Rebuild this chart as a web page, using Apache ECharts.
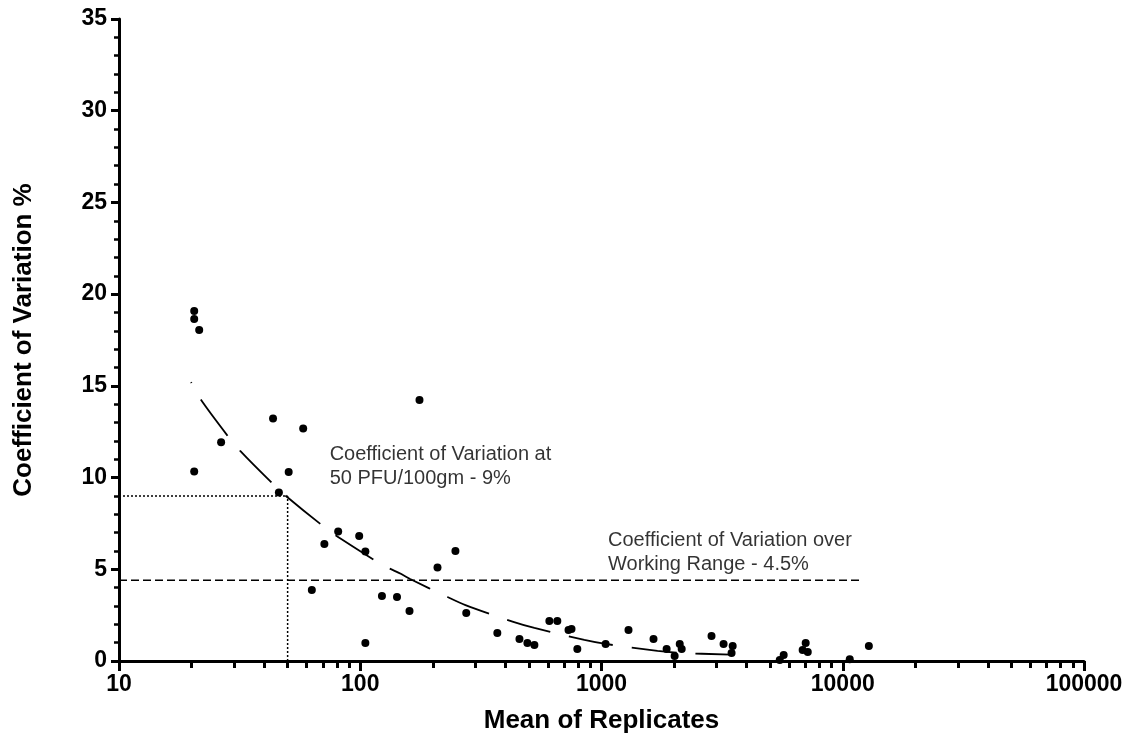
<!DOCTYPE html>
<html>
<head>
<meta charset="utf-8">
<script src="https://cdn.jsdelivr.net/npm/echarts@6/dist/echarts.min.js"></script>
<style>
html,body{margin:0;padding:0;background:#fff;}
#chart{width:1130px;height:738px;}
</style>
</head>
<body>
<div id="chart"></div>
<script>
// Scatter data: mean of replicates (x) and coefficient of variation % (y)
var meanReplicates = [20.5,20.5,21.5,20.5,26.5,43.5,46,50.5,58,63,71,81,99,105,105,123,142,160,176,209,248,275,370,457,493,527,608,656,730,751,794,1040,1294,1643,1862,2010,2110,2150,2858,3206,3497,3460,5480,5690,7020,6820,7160,10690,12830];
var cvPercent = [19.08,18.65,18.05,10.33,11.92,13.22,9.18,10.3,12.68,3.87,6.38,7.06,6.82,5.97,0.98,3.54,3.49,2.73,14.23,5.1,6.0,2.62,1.53,1.2,0.98,0.87,2.18,2.18,1.69,1.74,0.65,0.93,1.69,1.2,0.65,0.27,0.93,0.65,1.36,0.93,0.82,0.44,0.05,0.33,0.98,0.6,0.49,0.1,0.82];

// Fitted curve
var fitX = [19.9,21.7,28.1,31.8,43.1,50.2,71,83.4,124,148,161,230,273,431,527,849,1040,1706,2110,3430];
var fitY = [15.2,14.3,12.3,11.45,9.7,8.9,7.3,6.65,5.23,4.74,4.47,3.49,3.05,2.13,1.8,1.15,0.93,0.55,0.44,0.35];

// Reference values
var cvAt50 = 9;
var pfu50 = 50;
var cvWorkingRange = 4.4;
var workingRangeEnd = 12000;

// Axis ticks
var xMajorTicks = [10,100,1000,10000,100000];
var xMinorTicks = [20,30,40,50,60,70,80,90,200,300,400,500,600,700,800,900,2000,3000,4000,5000,6000,7000,8000,9000,20000,30000,40000,50000,60000,70000,80000,90000];
var yTicks = [0,5,10,15,20,25,30,35];

var scatterData = meanReplicates.map(function(x,i){return [x, cvPercent[i]];});
var fitData = fitX.map(function(x,i){return [x, fitY[i]];});

var FONT = '"Liberation Sans", Arial, Helvetica, sans-serif';
var chart = echarts.init(document.getElementById('chart'), null, {renderer:'canvas'});

var option = {
  animation: false,
  backgroundColor: '#fff',
  textStyle: {fontFamily: FONT},
  grid: {left:119, right:46, top:19, bottom:77, containLabel:false, outerBoundsMode:'none'},
  xAxis: [{
    type:'log', logBase:10, min:xMajorTicks[0], max:xMajorTicks[xMajorTicks.length-1], position:'bottom',
    axisLine:{show:true, onZero:false, lineStyle:{color:'#000', width:3}},
    axisTick:{show:true, length:10, lineStyle:{color:'#000', width:3}},
    axisLabel:{fontSize:23, fontWeight:'bold', color:'#000', fontFamily:FONT, margin:12,
      formatter:function(v){return String(Math.round(v));}},
    splitLine:{show:false},
    name:'Mean of Replicates', nameLocation:'middle', nameGap:47,
    nameTextStyle:{fontSize:26, fontWeight:'bold', color:'#000', fontFamily:FONT}
  },{
    type:'log', logBase:10, min:xMajorTicks[0], max:xMajorTicks[xMajorTicks.length-1], position:'bottom',
    axisLine:{show:false},
    axisTick:{show:true, length:7, customValues:xMinorTicks, lineStyle:{color:'#000', width:3}},
    axisLabel:{show:false},
    splitLine:{show:false}
  }],
  yAxis: {
    type:'value', min:yTicks[0], max:yTicks[yTicks.length-1], interval:5,
    axisLine:{show:true, onZero:false, lineStyle:{color:'#000', width:3}},
    axisTick:{show:true, length:8, lineStyle:{color:'#000', width:3}},
    minorTick:{show:true, splitNumber:5, length:5, lineStyle:{color:'#000', width:2.5}},
    axisLabel:{fontSize:23, fontWeight:'bold', color:'#000', fontFamily:FONT, margin:12},
    splitLine:{show:false},
    name:'Coefficient of Variation %', nameLocation:'middle', nameGap:82, nameRotate:90,
    nameTextStyle:{fontSize:26, fontWeight:'bold', color:'#000', fontFamily:FONT}
  },
  series: [
    {
      type:'line', xAxisIndex:0, data:fitData, smooth:0.3, symbol:'none', silent:true,
      lineStyle:{color:'#000', width:1.8, type:[45,19], dashOffset:44}
    },
    {
      type:'line', xAxisIndex:0, data:[[xMajorTicks[0], cvAt50],[pfu50, cvAt50]], symbol:'none', silent:true,
      lineStyle:{color:'#000', width:1.5, type:[2,2]}
    },
    {
      type:'line', xAxisIndex:0, data:[[pfu50, 0],[pfu50, cvAt50]], symbol:'none', silent:true,
      lineStyle:{color:'#000', width:1.5, type:[2,2]}
    },
    {
      type:'line', xAxisIndex:0, data:[[xMajorTicks[0], cvWorkingRange],[workingRangeEnd, cvWorkingRange]], symbol:'none', silent:true,
      lineStyle:{color:'#000', width:1.5, type:[8,4]}
    },
    {
      type:'scatter', xAxisIndex:0, data:scatterData, symbol:'circle', symbolSize:8, silent:true,
      itemStyle:{color:'#000', opacity:1}
    },
    {
      type:'scatter', xAxisIndex:0, silent:true, symbolSize:1, itemStyle:{color:'rgba(0,0,0,0)'},
      data:[[74.3, 10.58]],
      label:{show:true, position:'right', distance:0, color:'#000', fontSize:20, lineHeight:24,
        fontFamily:FONT, align:'left',
        formatter:'Coefficient of Variation at\n50 PFU/100gm - 9%'}
    },
    {
      type:'scatter', xAxisIndex:0, silent:true, symbolSize:1, itemStyle:{color:'rgba(0,0,0,0)'},
      data:[[1059, 5.94]],
      label:{show:true, position:'right', distance:0, color:'#000', fontSize:20, lineHeight:24,
        fontFamily:FONT, align:'left',
        formatter:'Coefficient of Variation over\nWorking Range - 4.5%'}
    }
  ]
};
chart.setOption(option);
</script>
</body>
</html>
